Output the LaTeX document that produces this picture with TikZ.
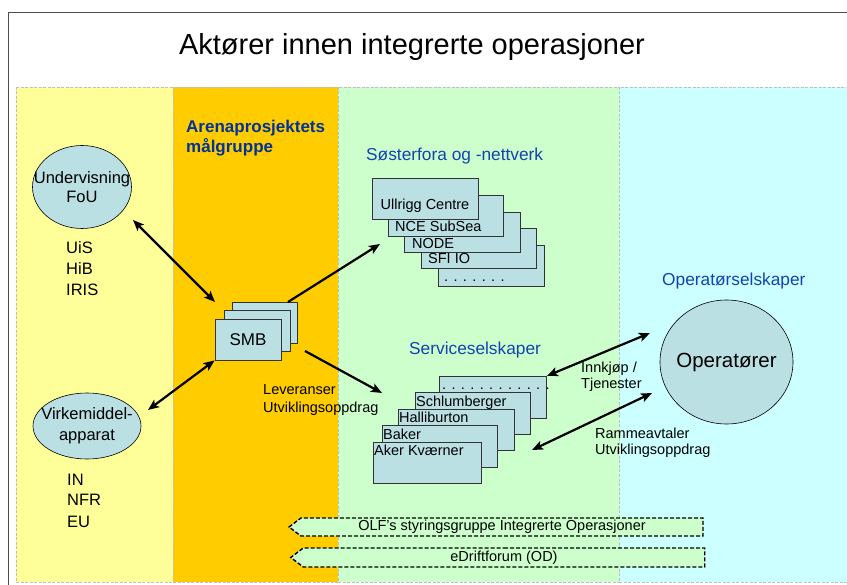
\documentclass[tikz,border=0pt]{standalone}
\usepackage{fontspec}
\setmainfont{Liberation Sans}
\usetikzlibrary{arrows.meta}
\usetikzlibrary{shapes.geometric}
\usetikzlibrary{shapes.symbols}

\definecolor{gulfelt}{HTML}{FFFF99}
\definecolor{oransjefelt}{HTML}{FFCC00}
\definecolor{gronnfelt}{HTML}{CCFFCC}
\definecolor{cyanfelt}{HTML}{CCFFFF}
\definecolor{lysblaa}{HTML}{BBE0E3}
\definecolor{moerkblaa}{HTML}{003399}
\definecolor{overblaa}{HTML}{1443B0}

\tikzset{
  felt/.style={draw=black!25, dash pattern=on 3pt off 1.5pt, line width=0.9pt},
  boble/.style={ellipse, draw, line width=0.6pt, fill=lysblaa, inner xsep=-15pt, inner ysep=-5pt, align=center},
  boks/.style={rectangle, draw=black!80, line width=0.8pt, fill=lysblaa, inner sep=0pt, anchor=north west},
  tekst/.style={inner sep=0pt, anchor=base west, align=left, font=\fontsize{14.5}{16.5}\selectfont},
  overskrift/.style={inner sep=0pt, anchor=base west, text=overblaa, font=\fontsize{17.3}{20}\selectfont},
  pil/.style={line width=2.2pt, -{Stealth[length=11pt,width=9pt,inset=2.5pt]}},
  dobbelpil/.style={line width=2.2pt, {Stealth[length=11pt,width=9pt,inset=2.5pt]}-{Stealth[length=11pt,width=9pt,inset=2.5pt]}},
  skilt/.style={signal, signal to=west, signal pointer angle=74, draw, dash pattern=on 4pt off 2pt,
    line width=1.4pt, fill=gronnfelt, inner sep=0pt, font=\fontsize{14.5}{16.5}\selectfont}
}

\begin{document}
\begin{tikzpicture}[x=1pt,y=-1pt]
  \useasboundingbox (0,0) rectangle (847,585);
  \clip (0,0) rectangle (847,585);

  % ramme og tittel
  \fill[white] (0,0) rectangle (847,585);
  \draw[draw=black!70, line width=1pt] (8,13) rectangle (880,620);
  \node[anchor=base, inner sep=0pt, font=\fontsize{29}{33}\selectfont] (tittel) at (412,55) {Aktører innen integrerte operasjoner};

  % feltene
  \filldraw[felt, fill=gulfelt] (16,87) rectangle (173,582);
  \filldraw[felt, fill=oransjefelt] (173,87) rectangle (338,582);
  \filldraw[felt, fill=gronnfelt] (338,87) rectangle (619,582);
  \filldraw[felt, fill=cyanfelt] (619,87) rectangle (880,582);

  % venstre felt (multi-line nodes: base = last line)
  \node[boble, minimum width=99pt, minimum height=83pt, font=\fontsize{16.5}{19}\selectfont] (fou) at (82,187) {Undervisning\\FoU};
  \node[tekst, font=\fontsize{16.5}{21}\selectfont] (uis) at (66,296) {UiS\\HiB\\IRIS};
  \node[boble, minimum width=108pt, minimum height=66pt, font=\fontsize{16.5}{21}\selectfont] (virk) at (87,426) {Virkemiddel-\\apparat};
  \node[tekst, font=\fontsize{16.5}{21}\selectfont] (in) at (67,527) {IN\\NFR\\EU};

  % maalgruppa
  \node[inner sep=0pt, anchor=base west, align=left, text=moerkblaa, font=\bfseries\fontsize{17}{20}\selectfont] (arena) at (186,153) {Arenaprosjektets\\målgruppe};
  \node[boks, minimum width=65pt, minimum height=41pt] (smb3) at (232,302) {};
  \node[boks, minimum width=66pt, minimum height=41pt] (smb2) at (223.5,310.5) {};
  \node[boks, minimum width=66pt, minimum height=41pt, anchor=center, font=\fontsize{17}{20}\selectfont] (smb) at (248,339.5) {SMB};
  \node[tekst, font=\fontsize{14.5}{18}\selectfont] (lev) at (263,413) {Leveranser\\Utviklingsoppdrag};

  % soesterfora
  \node[overskrift] (soester) at (366,161) {Søsterfora og -nettverk};
  \node[boks, minimum width=106pt, minimum height=41pt] (sfi5) at (438,245) {};
  \node[boks, minimum width=115pt, minimum height=40pt] (sfi4) at (421,228) {};
  \node[boks, minimum width=116pt, minimum height=40pt] (sfi3) at (404,212) {};
  \node[boks, minimum width=115pt, minimum height=41pt] (sfi2) at (388,195) {};
  \node[boks, minimum width=106pt, minimum height=41pt] (sfi1) at (372,178) {};
  \node[tekst, anchor=base] (ullrigg) at (425,210) {Ullrigg Centre};
  \node[tekst] (nce) at (395,232) {NCE SubSea};
  \node[tekst] (node) at (412,249) {NODE};
  \node[tekst] (sfiio) at (428,264) {SFI IO};
  \node[tekst] (prikk1) at (444,282) {. . . . . . .};

  % serviceselskaper
  \node[overskrift] (service) at (409,355) {Serviceselskaper};
  \node[boks, minimum width=107pt, minimum height=42pt] (sv5) at (439,376) {};
  \node[boks, minimum width=115pt, minimum height=42pt] (sv4) at (415,392) {};
  \node[boks, minimum width=116pt, minimum height=41pt] (sv3) at (398,409) {};
  \node[boks, minimum width=115pt, minimum height=42pt] (sv2) at (382,425) {};
  \node[boks, minimum width=108pt, minimum height=41pt] (sv1) at (373,442) {};
  \node[tekst] (prikk2) at (442,390) {. . . . . . . . . . . .};
  \node[tekst] (schl) at (416,407) {Schlumberger};
  \node[tekst] (hall) at (399,423) {Halliburton};
  \node[tekst] (baker) at (383,440) {Baker};
  \node[tekst] (aker) at (374,456) {Aker Kværner};

  % operatoerer
  \node[overskrift] (opsel) at (662,286) {Operatørselskaper};
  \node[boble, minimum width=133pt, minimum height=124pt, font=\fontsize{20.5}{24}\selectfont] (op) at (726.5,362) {Operatører};
  \node[tekst] (innkjop) at (581,389) {Innkjøp /\\Tjenester};
  \node[tekst] (ramme) at (595,455) {Rammeavtaler\\Utviklingsoppdrag};

  % fora nederst
  \node[skilt, minimum width=414pt, minimum height=18pt] (olf) at (502,527) {OLF’s styringsgruppe Integrerte Operasjoner};
  \node[skilt, minimum width=414pt, minimum height=19pt] (edrift) at (504,557.5) {eDriftforum (OD)};

  % piler
  \coordinate (fouE) at (133,220);
  \coordinate (smbV) at (215,302);
  \coordinate (virkE) at (148,410);
  \coordinate (smbO) at (288,302);
  \coordinate (sfiV) at (380,244);
  \coordinate (smbH) at (305,351);
  \coordinate (svV) at (382,393);
  \coordinate (opV) at (650,333);
  \coordinate (svH) at (532,450);
  \coordinate (opN) at (652,393);
  \draw[dobbelpil] (fouE) -- (smbV);
  \draw[dobbelpil] (virkE) -- (smb.south west);
  \draw[pil] (smbO) -- (sfiV);
  \draw[pil] (smbH) -- (svV);
  \draw[dobbelpil] (sv5.north east) -- (opV);
  \draw[dobbelpil] (svH) -- (opN);
\end{tikzpicture}
\end{document}
